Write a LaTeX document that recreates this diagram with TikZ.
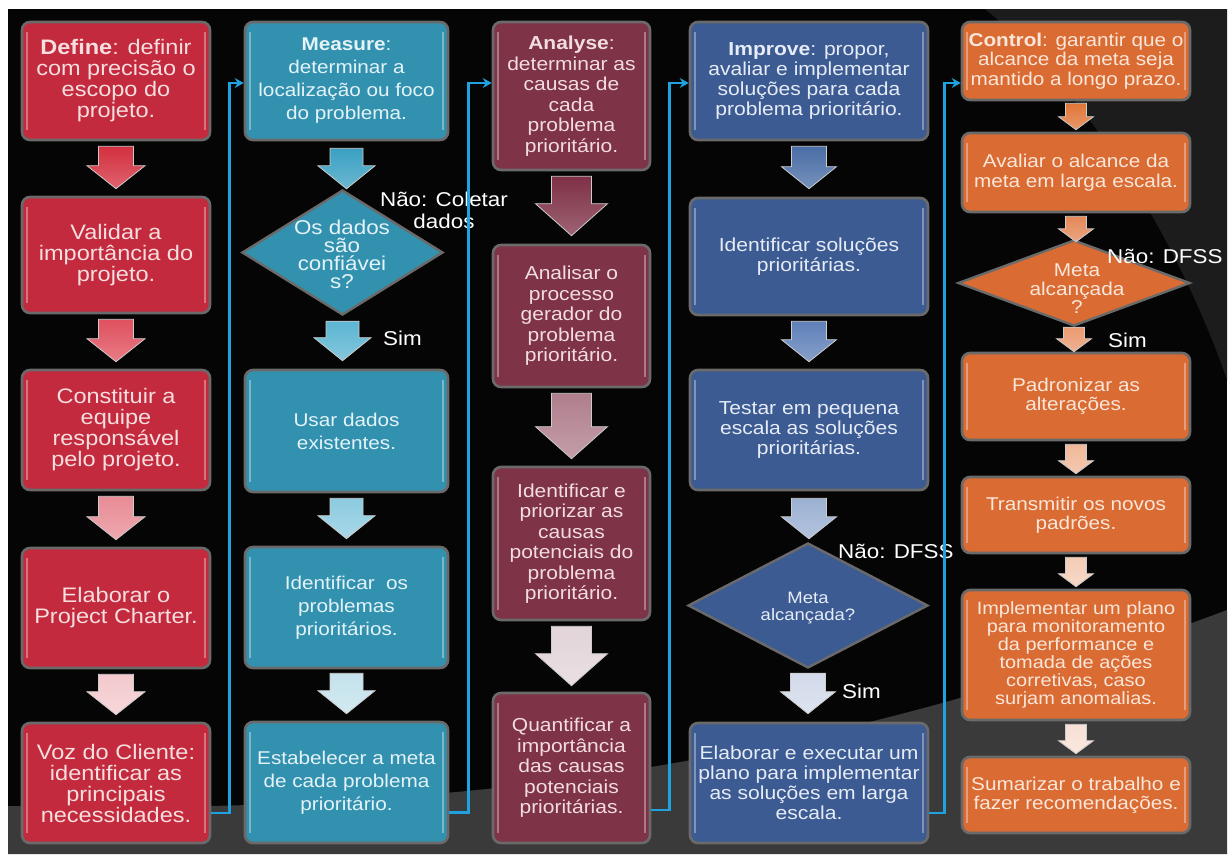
\documentclass[tikz,border=0pt]{standalone}
\usepackage{fontspec}
\setmainfont[FakeStretch=1.12]{Liberation Sans}
\usetikzlibrary{shapes.geometric,calc,arrows.meta}

\definecolor{bgblack}{HTML}{050505}
\definecolor{swoosh}{HTML}{3A3A3A}
\definecolor{swooshdark}{HTML}{1C1C1C}
\definecolor{rim}{HTML}{6A6A6A}
\definecolor{linkblue}{HTML}{1FA2DF}
\definecolor{redfill}{HTML}{C32A3E}
\definecolor{redtext}{HTML}{F7DEDF}
\definecolor{tealfill}{HTML}{3391B0}
\definecolor{tealtext}{HTML}{E4F3F7}
\definecolor{maroonfill}{HTML}{7E3347}
\definecolor{maroontext}{HTML}{F2DCE2}
\definecolor{bluefill}{HTML}{3D5B93}
\definecolor{bluetext}{HTML}{E6ECF6}
\definecolor{orangefill}{HTML}{D96B33}
\definecolor{orangetext}{HTML}{FBE6DA}
% block arrow colours, darkest first in each column
\definecolor{rA}{HTML}{D42F3F}\definecolor{rB}{HTML}{E0505E}
\definecolor{rC}{HTML}{E88C95}\definecolor{rD}{HTML}{F3C9CD}
\definecolor{tA}{HTML}{3AA0C2}\definecolor{tB}{HTML}{5CB5D2}
\definecolor{tC}{HTML}{8CCBE0}\definecolor{tD}{HTML}{C4E2EC}
\definecolor{mA}{HTML}{7E3046}\definecolor{mB}{HTML}{B07E8C}
\definecolor{mC}{HTML}{E2D4D8}
\definecolor{bA}{HTML}{4A6DA6}\definecolor{bB}{HTML}{5E80B8}
\definecolor{bC}{HTML}{9BB0D2}\definecolor{bD}{HTML}{D2DAEA}
\definecolor{oA}{HTML}{E07638}\definecolor{oB}{HTML}{E58858}
\definecolor{oC}{HTML}{EA9A70}\definecolor{oD}{HTML}{F0B898}
\definecolor{oE}{HTML}{F4CCB6}\definecolor{oF}{HTML}{F8E0D4}

\tikzset{
  stage/.style={rectangle, rounded corners=8pt, draw=rim, line width=2.6pt,
    align=center, inner sep=0pt,
    path picture={\draw[white, opacity=0.35, line width=1.4pt]
      ([xshift=5pt,yshift=-10pt]path picture bounding box.north west) --
      ([xshift=5pt,yshift=10pt]path picture bounding box.south west)
      ([xshift=-5pt,yshift=-10pt]path picture bounding box.north east) --
      ([xshift=-5pt,yshift=10pt]path picture bounding box.south east);}},
  redst/.style={stage, fill=redfill, text=redtext, minimum width=188pt,
    font=\fontsize{21}{21}\selectfont},
  tealst/.style={stage, fill=tealfill, text=tealtext, minimum width=203pt,
    font=\fontsize{18.5}{23}\selectfont},
  maroonst/.style={stage, fill=maroonfill, text=maroontext, minimum width=157pt,
    font=\fontsize{18.75}{20.5}\selectfont},
  bluest/.style={stage, fill=bluefill, text=bluetext, minimum width=238pt,
    font=\fontsize{18.8}{20}\selectfont},
  orangest/.style={stage, fill=orangefill, text=orangetext, minimum width=228pt,
    font=\fontsize{18.5}{19.5}\selectfont},
  decision/.style={diamond, draw=rim, line width=2.4pt, inner sep=0pt},
  note/.style={text=white, font=\fontsize{20}{22}\selectfont, inner sep=0pt},
  link/.style={draw=linkblue, line width=2.6pt,
    -{Stealth[length=9pt,width=10pt,inset=3pt]}},
  blockarrow/.style={draw=white!80!black, line width=0.8pt},
}

% \flowarrow{from}{to}{shaft half}{head half}{head length}{colour}{top gap}{bottom gap}
\newcommand\flowarrow[8]{%
  \path[blockarrow, top color=#6, bottom color=#6!75!white]
    let \p1=(#1.south), \p2=(#2.north), \n1={\y1-(#7)}, \n2={\y2+(#8)} in
    (\x1-#3,\n1) -- (\x1+#3,\n1) -- (\x1+#3,\n2+#5) -- (\x1+#4,\n2+#5) --
    (\x1,\n2) -- (\x1-#4,\n2+#5) -- (\x1-#3,\n2+#5) -- cycle;}

\begin{document}
\begin{tikzpicture}[x=1pt, y=-1pt]
\useasboundingbox (0,0) rectangle (1231,854);

% backdrop
\fill[white] (0,0) rectangle (1231,854);
\fill[bgblack] (8,9) rectangle (1227,854);
\fill[swooshdark] (985,9) .. controls (1120,120) and (1200,300) .. (1227,380) -- (1227,9) -- cycle;
\fill[swoosh] (8,806) .. controls (450,815) and (800,770) .. (1227,610) -- (1227,854) -- (8,854) -- cycle;

% Define
\node[redst, minimum height=118pt] (d1) at (116,81) {\textbf{Define}: definir\\com precisão o\\escopo do\\projeto.};
\node[redst, minimum height=116pt] (d2) at (116,255) {Validar a\\importância do\\projeto.};
\node[redst, minimum height=120pt] (d3) at (116,430) {Constituir a\\equipe\\responsável\\pelo projeto.};
\node[redst, minimum height=120pt] (d4) at (116,608) {Elaborar o\\Project Charter.};
\node[redst, minimum height=120pt] (d5) at (116,783) {Voz do Cliente:\\identificar as\\principais\\necessidades.};

% Measure
\node[tealst, minimum height=118pt] (m1) at (346.5,81) {\textbf{Measure}:\\determinar a\\localização ou foco\\do problema.};
\node[decision, fill=tealfill, minimum width=201pt, minimum height=125pt] (m2) at (342.5,252.5) {};
\node[text=tealtext, font=\fontsize{20}{18}\selectfont, align=center, inner sep=0pt] (m2t) at (342,254) {Os dados\\são\\confiávei\\s?};
\node[tealst, minimum height=122pt] (m3) at (346.5,431) {Usar dados\\existentes.};
\node[tealst, minimum height=121pt] (m4) at (346.5,607.5) {Identificar\ \ os\\problemas\\prioritários.};
\node[tealst, minimum height=121pt] (m5) at (346.5,782.5) {Estabelecer a meta\\de cada problema\\prioritário.};

% Analyse
\node[maroonst, minimum height=148pt] (a1) at (571.5,96) {\textbf{Analyse}:\\determinar as\\causas de\\cada\\problema\\prioritário.};
\node[maroonst, minimum height=142pt] (a2) at (571.5,316) {Analisar o\\processo\\gerador do\\problema\\prioritário.};
\node[maroonst, minimum height=153pt] (a3) at (571.5,543.5) {Identificar e\\priorizar as\\causas\\potenciais do\\problema\\prioritário.};
\node[maroonst, minimum height=150pt] (a4) at (571.5,768) {Quantificar a\\importância\\das causas\\potenciais\\prioritárias.};

% Improve
\node[bluest, minimum height=118pt] (i1) at (809,81) {\textbf{Improve}: propor,\\avaliar e implementar\\soluções para cada\\problema prioritário.};
\node[bluest, minimum height=117pt] (i2) at (809,256.5) {Identificar soluções\\prioritárias.};
\node[bluest, minimum height=120pt] (i3) at (809,430) {Testar em pequena\\escala as soluções\\prioritárias.};
\node[decision, fill=bluefill, minimum width=240pt, minimum height=125pt] (i4) at (808,605.5) {};
\node[text=bluetext, font=\fontsize{16.5}{17.5}\selectfont, align=center, inner sep=0pt] (i4t) at (808,608) {Meta\\alcançada?};
\node[bluest, minimum height=120pt] (i5) at (809,783) {Elaborar e executar um\\plano para implementar\\as soluções em larga\\escala.};

% Control
\node[orangest, minimum height=78pt] (c1) at (1076,61) {\textbf{Control}: garantir que o\\alcance da meta seja\\mantido a longo prazo.};
\node[orangest, minimum height=79pt] (c2) at (1076,172.5) {Avaliar o alcance da\\meta em larga escala.};
\node[decision, fill=orangefill, minimum width=232pt, minimum height=86pt] (c3) at (1074,283) {};
\node[text=orangetext, font=\fontsize{18.6}{18.5}\selectfont, align=center, inner sep=0pt] (c3t) at (1077,289) {Meta\\alcançada\\?};
\node[orangest, minimum height=87pt] (c4) at (1076,396.5) {Padronizar as\\alterações.};
\node[orangest, minimum height=76pt] (c5) at (1076,515) {Transmitir os novos\\padrões.};
\node[orangest, minimum height=130pt, font=\fontsize{17.8}{18}\selectfont] (c6) at (1076,655) {Implementar um plano\\para monitoramento\\da performance e\\tomada de ações\\corretivas, caso\\surjam anomalias.};
\node[orangest, minimum height=76pt] (c7) at (1076,795) {Sumarizar o trabalho e\\fazer recomendações.};

% decision labels
\node[note, align=center] (nao1) at (444,210) {Não: Coletar\\dados};
\node[note, anchor=west] (sim1) at (383,338) {Sim};
\node[note, anchor=west] (nao2) at (838,551) {Não: DFSS};
\node[note, anchor=west] (sim2) at (842,691) {Sim};
\node[note, anchor=west] (nao3) at (1107,256) {Não: DFSS};
\node[note, anchor=west] (sim3) at (1108,340) {Sim};

% block arrows inside each phase
\flowarrow{d1}{d2}{17.5pt}{29pt}{23pt}{rA}{5pt}{7pt}
\flowarrow{d2}{d3}{17.5pt}{29pt}{23pt}{rB}{5pt}{7pt}
\flowarrow{d3}{d4}{17.5pt}{29pt}{23pt}{rC}{5pt}{7pt}
\flowarrow{d4}{d5}{17.5pt}{29pt}{23pt}{rD}{5pt}{7pt}

\flowarrow{m1}{m2}{16.5pt}{28.5pt}{23pt}{tA}{7pt}{0pt}
\flowarrow{m2}{m3}{16.5pt}{28.5pt}{23pt}{tB}{5pt}{8pt}
\flowarrow{m3}{m4}{16.5pt}{28.5pt}{23pt}{tC}{5pt}{7pt}
\flowarrow{m4}{m5}{16.5pt}{28.5pt}{23pt}{tD}{4pt}{7pt}

\flowarrow{a1}{a2}{20pt}{36pt}{32pt}{mA}{5pt}{8pt}
\flowarrow{a2}{a3}{20pt}{36pt}{32pt}{mB}{5pt}{7pt}
\flowarrow{a3}{a4}{20pt}{36pt}{32pt}{mC}{5pt}{6pt}

\flowarrow{i1}{i2}{17.5pt}{27.5pt}{22pt}{bA}{5pt}{8pt}
\flowarrow{i2}{i3}{17.5pt}{27.5pt}{22pt}{bB}{5pt}{7pt}
\flowarrow{i3}{i4}{17.5pt}{27.5pt}{22pt}{bC}{7pt}{3pt}
\flowarrow{i4}{i5}{17.5pt}{27.5pt}{22pt}{bD}{4pt}{8pt}

\flowarrow{c1}{c2}{10.5pt}{17.5pt}{13pt}{oA}{2pt}{2pt}
\flowarrow{c2}{c3}{10.5pt}{17.5pt}{13pt}{oB}{3pt}{-3pt}
\flowarrow{c3}{c4}{10.5pt}{17.5pt}{13pt}{oC}{0pt}{0pt}
\flowarrow{c4}{c5}{10.5pt}{17.5pt}{13pt}{oD}{3pt}{2pt}
\flowarrow{c5}{c6}{10.5pt}{17.5pt}{13pt}{oE}{3pt}{2pt}
\flowarrow{c6}{c7}{10.5pt}{17.5pt}{13pt}{oF}{3pt}{2pt}

% hand-offs between phases
\draw[link] ([yshift=-30pt]d5.east) -- ++(18,0) |- ([yshift=-2pt]m1.west);
\draw[link] ([yshift=-30pt]m5.east) -- ++(19,0) |- ([yshift=-2pt]a1.west |- m1.west);
\draw[link] ([yshift=-42pt]a4.east) -- ++(18,0) |- ([yshift=-2pt]i1.west);
\draw[link] ([yshift=-30pt]i5.east) -- ++(15,0) |- ([yshift=-22pt]c1.west);
\end{tikzpicture}
\end{document}
